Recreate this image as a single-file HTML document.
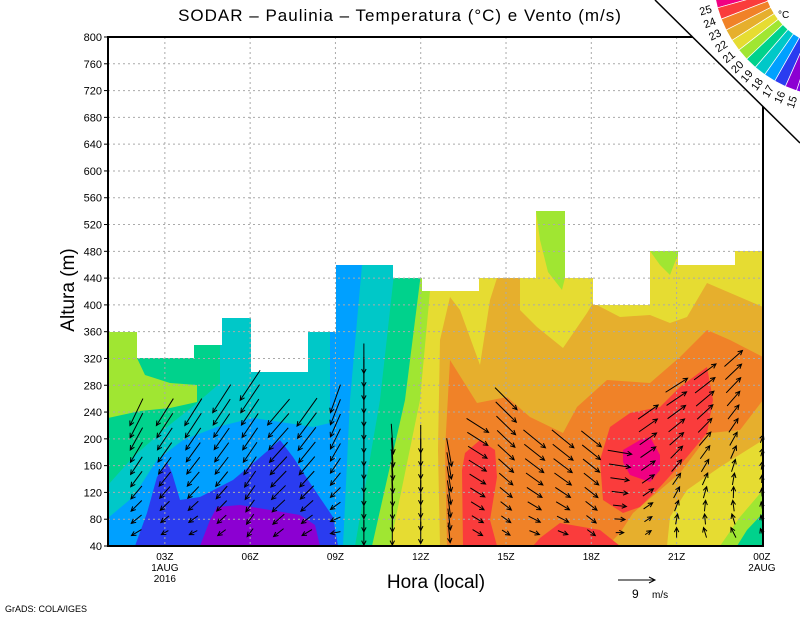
<!DOCTYPE html>
<html><head><meta charset="utf-8"><style>
body{margin:0;background:#fff;width:800px;height:618px;overflow:hidden}
svg{display:block}
text{font-family:"Liberation Sans",sans-serif;fill:#000}
</style></head><body>
<svg id="s" width="800" height="618" viewBox="0 0 800 618">
<defs><clipPath id="c"><polygon points="108,332 137,332 137,358 194,358 194,345 222,345 222,318 251,318 251,372 308,372 308,332 336,332 336,265 393,265 393,278 422,278 422,291 479,291 479,278 536,278 536,211 565,211 565,278 593,278 593,305 650,305 650,251 678,251 678,265 735,265 735,251 763,251 763,546 108,546"/></clipPath></defs>
<g clip-path="url(#c)">
<rect x="100" y="200" width="670" height="350" fill="#e6af2d"/>
<polygon fill="#e6dc32" points="108,200 763,200 763,307 707,283 687,317 670,323 650,315 620,317 593,303 587,313 563,348 537,327 520,310 520,200 497,200 497,278 490,300 480,365 460,310 450,297 440,340 438,450 440,546 108,546"/>
<polygon fill="#f08228" points="450,360 477,403 507,397 530,417 563,433 577,407 607,380 650,383 680,357 707,330 730,340 763,357 763,400 740,430 710,433 680,473 660,490 633,513 620,533 607,546 447,546 445,450"/>
<polygon fill="#e6dc32" points="763,440 720,467 687,490 670,517 667,546 763,546"/>
<polygon fill="#a0e632" points="763,490 740,517 720,546 763,546"/>
<polygon fill="#00d28c" points="763,513 747,530 737,546 763,546"/>
<polygon fill="#a0e632" points="536,211 565,211 565,278 562,290 548,272 540,240"/>
<polygon fill="#a0e632" points="650,251 680,251 675,262 670,275 660,265"/>
<polygon fill="#fa3c3c" points="463,546 462,470 465,453 480,440 495,450 497,477 490,520 497,546"/>
<polygon fill="#fa3c3c" points="533,546 540,538 560,523 600,530 620,546"/>
<polygon fill="#fa3c3c" points="600,460 610,427 630,413 660,407 680,387 707,367 713,400 707,433 687,457 660,487 640,507 623,513 603,500"/>
<polygon fill="#f00082" points="623,450 640,440 650,437 660,455 660,470 650,482 630,475 623,462"/>
<polygon fill="#a0e632" points="108,200 432,200 430,291 420,400 390,546 108,546"/>
<polygon fill="#00d28c" points="108,200 424,200 422,265 405,400 372,546 108,546"/>
<polygon fill="#00c8c8" points="108,200 395,200 395,265 380,400 355,546 108,546"/>
<polygon fill="#00d28c" points="108,200 220,200 220,383 197,403 167,427 133,457 108,485"/>
<polygon fill="#a0e632" points="108,332 137,332 137,358 145,375 170,383 197,385 197,402 170,408 140,411 108,418"/>
<polygon fill="#00a0ff" points="108,518 133,497 157,460 183,440 217,427 253,418 287,423 313,427 330,423 330,300 333,200 362,200 362,265 350,400 343,546 108,546"/>
<polygon fill="#2a3cf0" points="135,546 147,513 157,477 167,462 172,473 180,500 200,497 233,480 257,460 280,440 293,457 310,483 333,517 338,546"/>
<polygon fill="#8c00d2" points="200,546 210,520 217,507 240,505 300,515 315,525 320,546"/>
</g>
<g id="grid" stroke="#aaa" stroke-width="1" stroke-dasharray="2,3"></g>
<g id="arrows" stroke="#000" stroke-width="1" fill="none"></g>
<rect x="108" y="37" width="655" height="509" fill="none" stroke="#000" stroke-width="2"/>
<g id="lab" font-size="11"></g>
<text x="400" y="21" font-size="17" text-anchor="middle" letter-spacing="1">SODAR – Paulinia – Temperatura (°C) e Vento (m/s)</text>
<text transform="translate(74,290) rotate(-90)" font-size="19" text-anchor="middle">Altura (m)</text>
<text x="436" y="588" font-size="19" text-anchor="middle">Hora (local)</text>
<line x1="618" y1="580" x2="655" y2="580" stroke="#000"/>
<polyline points="649,577 655,580 649,583" stroke="#000" fill="none"/>
<text x="632" y="598" font-size="12">9</text><text x="652" y="598" font-size="10">m/s</text>
<text x="5" y="612" font-size="9">GrADS: COLA/IGES</text>
<polygon points="655,0 800,0 800,143" fill="#fff"/>
<line x1="655" y1="0" x2="800" y2="143" stroke="#000" stroke-width="1.5"/>
<g id="fan"></g>
<text x="778" y="18" font-size="10">°C</text>
</svg>
<script>
var NS="http://www.w3.org/2000/svg";
function el(p,t,a,txt){var e=document.createElementNS(NS,t);for(var k in a)e.setAttribute(k,a[k]);if(txt!=null)e.textContent=txt;document.getElementById(p).appendChild(e);return e;}
function Y(h){return 546-(h-40)*0.66974;}
function X(hr){return 108+(hr-1)*28.43;}
for(var h=80;h<800;h+=40)el("grid","line",{x1:108,x2:763,y1:Y(h),y2:Y(h)});
for(var hr=3;hr<24;hr+=3)el("grid","line",{x1:X(hr),x2:X(hr),y1:37,y2:546});
for(var h=40;h<=800;h+=40){el("lab","text",{x:102,y:Y(h)+4,"text-anchor":"end"},h);el("lab","line",{x1:104,x2:108,y1:Y(h),y2:Y(h),stroke:"#000"});}
var xl=["03Z","06Z","09Z","12Z","15Z","18Z","21Z","00Z"];
for(var i=0;i<8;i++){var x=X(3+3*i);el("lab","text",{x:x,y:560,"text-anchor":"middle","font-size":"10"},xl[i]);}
el("lab","text",{x:X(3),y:571,"text-anchor":"middle","font-size":"10"},"1AUG");
el("lab","text",{x:X(3),y:582,"text-anchor":"middle","font-size":"10"},"2016");
el("lab","text",{x:X(24),y:571,"text-anchor":"middle","font-size":"10"},"2AUG");
var cols=[[2,240,-13,27,-10,6],[3,240,-17,27,-7,4],[4,240,-17,27,-8,4],[5,260,-18,28,-8,6],[6,280,-20,30,-6,8],[7,240,-22,26,-10,8],[8,240,-20,28,-10,6],[9,260,-10,28,-10,2],[10,320,0,30,0,25],[11,200,2,30,0,25],[12,200,0,28,0,22],[13,180,5,28,2,20],[14,220,22,14,10,6],[15,260,22,22,8,5],[16,200,22,18,10,4],[17,200,22,18,10,4],[18,200,20,16,8,6],[19,180,24,4,8,0],[20,240,20,-14,6,-4],[21,280,22,-14,0,-10],[22,300,22,-16,-3,-10],[23,320,18,-16,-5,-10],[24,200,3,-8,-3,-8]];
cols.forEach(function(c){
 for(var h=60;h<=c[1];h+=20){
  var t=(c[1]==60)?1:(h-60)/(c[1]-60);
  var dx=c[4]+(c[2]-c[4])*t,dy=c[5]+(c[3]-c[5])*t;
  var cx=X(c[0]),cy=Y(h);
  var x1=cx-dx/2,y1=cy-dy/2,x2=cx+dx/2,y2=cy+dy/2;
  var L=Math.sqrt(dx*dx+dy*dy)||1,ux=dx/L,uy=dy/L,a=5;
  var ax=x2-a*(ux*0.9-uy*0.45),ay=y2-a*(uy*0.9+ux*0.45);
  var bx=x2-a*(ux*0.9+uy*0.45),by=y2-a*(uy*0.9-ux*0.45);
  el("arrows","path",{d:"M"+x1+" "+y1+"L"+x2+" "+y2+"M"+ax+" "+ay+"L"+x2+" "+y2+"L"+bx+" "+by});
 }});
var fc=["#f00082","#fa3c3c","#f08228","#e6af2d","#e6dc32","#a0e632","#00d28c","#00c8c8","#00a0ff","#2a3cf0","#8c00d2","#8200e6"];
var cx=835,cy=-25,r1=72,r2=122,a0=170,da=5.6;
function P(r,a){a=a*Math.PI/180;return [cx+r*Math.cos(a),cy+r*Math.sin(a)];}
for(var i=0;i<12;i++){
 var A=a0-i*da,B=A-da;
 var p1=P(r2,A),p2=P(r2,B),p3=P(r1,B),p4=P(r1,A);
 el("fan","polygon",{points:[p1,p2,p3,p4].map(function(p){return p.join(",")}).join(" "),fill:fc[i],stroke:"#fff","stroke-width":"0.7"});
}
var lb=[25,24,23,22,21,20,19,18,17,16,15];
for(var i=0;i<11;i++){var A=a0-(i+1)*da;var p=P(r2+6,A);
 el("fan","text",{x:p[0],y:p[1],"font-size":"11",transform:"rotate("+(A-180)+" "+p[0]+" "+p[1]+")","text-anchor":"end","dominant-baseline":"middle"},lb[i]);}
</script>
</body></html>
